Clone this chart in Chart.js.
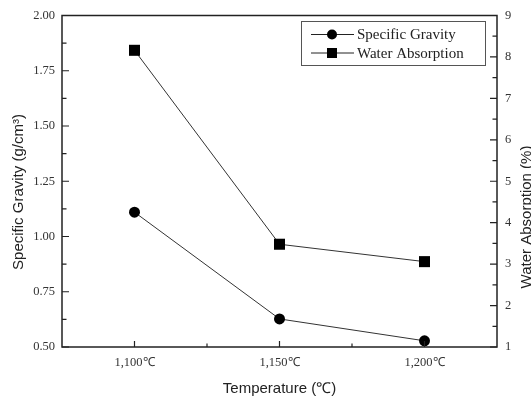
<!DOCTYPE html>
<html>
<head>
<meta charset="utf-8">
<script src="https://cdn.jsdelivr.net/npm/chart.js@4.4.1/dist/chart.umd.min.js"></script>
<style>
    html, body { margin: 0; padding: 0; background: #fff; }
    #wrap { width: 531px; height: 398px; }
</style>
</head>
<body>
<div id="wrap"><canvas id="chart" width="531" height="398"></canvas></div>
<script>
// values
const temperatures = ["1,100℃", "1,150℃", "1,200℃"];
const specificGravity = [1.11, 0.627, 0.528];
const waterAbsorption = [8.16, 3.48, 3.06];

const gravityRange = [0.5, 2.0];
const gravityStep = 0.25;
const absorptionRange = [1, 9];
const absorptionStep = 1;

const xTitle = "Temperature (℃)";
const leftTitle = "Specific Gravity (g/cm³)";
const rightTitle = "Water Absorption (%)";

const serif = "'Liberation Serif', 'Times New Roman', serif";
const sans = "'Liberation Sans', Arial, sans-serif";

function midpoints(pixels) {
    const result = [];
    for (let i = 0; i < pixels.length - 1; i++) {
        result.push((pixels[i] + pixels[i + 1]) / 2);
    }
    return result;
}

const framePlugin = {
    id: "framePlugin",
    afterDraw(chart) {
        const ctx = chart.ctx;
        const area = chart.chartArea;
        const x = chart.scales.x;
        const yLeft = chart.scales.y;
        const yRight = chart.scales.y1;

        ctx.save();
        ctx.strokeStyle = "#222";
        ctx.lineWidth = 1.5;
        ctx.strokeRect(area.left, area.top, area.right - area.left, area.bottom - area.top);

        // inward tick marks
        ctx.lineWidth = 1.2;
        ctx.beginPath();
        const xMajor = x.ticks.map((t, i) => x.getPixelForTick(i));
        xMajor.forEach((px) => { ctx.moveTo(px, area.bottom); ctx.lineTo(px, area.bottom - 6); });
        midpoints(xMajor).forEach((px) => { ctx.moveTo(px, area.bottom); ctx.lineTo(px, area.bottom - 3.5); });

        const leftMajor = yLeft.ticks.map((t) => yLeft.getPixelForValue(t.value));
        leftMajor.forEach((py) => { ctx.moveTo(area.left, py); ctx.lineTo(area.left + 7, py); });
        midpoints(leftMajor).forEach((py) => { ctx.moveTo(area.left, py); ctx.lineTo(area.left + 4.5, py); });

        const rightMajor = yRight.ticks.map((t) => yRight.getPixelForValue(t.value));
        rightMajor.forEach((py) => { ctx.moveTo(area.right, py); ctx.lineTo(area.right - 7, py); });
        midpoints(rightMajor).forEach((py) => { ctx.moveTo(area.right, py); ctx.lineTo(area.right - 4.5, py); });
        ctx.stroke();

        // axis titles
        ctx.fillStyle = "#222";
        ctx.font = "15px " + sans;
        ctx.textAlign = "center";
        ctx.textBaseline = "middle";
        ctx.fillText(xTitle, (area.left + area.right) / 2, 389);

        ctx.save();
        ctx.translate(18.5, 192);
        ctx.rotate(-Math.PI / 2);
        ctx.fillText(leftTitle, 0, 0);
        ctx.restore();

        ctx.save();
        ctx.translate(527, 217);
        ctx.rotate(-Math.PI / 2);
        ctx.fillText(rightTitle, 0, 0);
        ctx.restore();

        // legend box
        const box = { left: 301, top: 21, right: 485, bottom: 65 };
        ctx.strokeStyle = "#555";
        ctx.lineWidth = 1;
        ctx.strokeRect(box.left + 0.5, box.top + 0.5, box.right - box.left, box.bottom - box.top);

        const rows = [34.5, 53];
        ctx.font = "15px " + serif;
        ctx.textAlign = "left";
        chart.data.datasets.forEach((ds, i) => {
            const ry = rows[i];
            ctx.strokeStyle = "#222";
            ctx.lineWidth = 1;
            ctx.beginPath();
            ctx.moveTo(311, ry);
            ctx.lineTo(354, ry);
            ctx.stroke();
            ctx.fillStyle = "#000";
            if (ds.pointStyle === "rect") {
                ctx.fillRect(332 - 5, ry - 5, 10, 10);
            } else {
                ctx.beginPath();
                ctx.arc(332, ry, 5, 0, Math.PI * 2);
                ctx.fill();
            }
            ctx.fillStyle = "#222";
            ctx.fillText(ds.label, 357, ry + 1);
        });
        ctx.restore();
    },
};

new Chart(document.getElementById("chart"), {
    type: "line",
    data: {
        labels: temperatures,
        datasets: [
            {
                label: "Specific Gravity",
                data: specificGravity,
                yAxisID: "y",
                borderColor: "#333",
                borderWidth: 1,
                pointStyle: "circle",
                pointRadius: 5.5,
                pointBackgroundColor: "#000",
                pointBorderWidth: 0,
                clip: false,
            },
            {
                label: "Water Absorption",
                data: waterAbsorption,
                yAxisID: "y1",
                borderColor: "#333",
                borderWidth: 1,
                pointStyle: "rect",
                pointRadius: 7.8,
                pointBackgroundColor: "#000",
                pointBorderWidth: 0,
                clip: false,
            },
        ],
    },
    options: {
        responsive: false,
        devicePixelRatio: 1,
        animation: false,
        layout: { padding: { top: 15, left: 0, right: 0, bottom: 0 } },
        plugins: {
            legend: { display: false },
            tooltip: { enabled: false },
        },
        scales: {
            x: {
                type: "category",
                offset: true,
                grid: { display: false, drawTicks: false },
                border: { display: false },
                ticks: {
                    color: "#333",
                    font: { family: serif, size: 12.5 },
                    padding: 8,
                    maxRotation: 0,
                },
                afterFit(scale) { scale.height = 51; },
            },
            y: {
                position: "left",
                min: gravityRange[0],
                max: gravityRange[1],
                grid: { display: false, drawTicks: false },
                border: { display: false },
                ticks: {
                    stepSize: gravityStep,
                    color: "#333",
                    font: { family: serif, size: 12.5 },
                    padding: 7,
                    callback: (value) => value.toFixed(2),
                },
                afterFit(scale) { scale.width = 62; },
            },
            y1: {
                position: "right",
                min: absorptionRange[0],
                max: absorptionRange[1],
                grid: { display: false, drawTicks: false },
                border: { display: false },
                ticks: {
                    stepSize: absorptionStep,
                    color: "#333",
                    font: { family: serif, size: 12.5 },
                    padding: 8,
                },
                afterFit(scale) { scale.width = 34; },
            },
        },
    },
    plugins: [framePlugin],
});
</script>
</body>
</html>
